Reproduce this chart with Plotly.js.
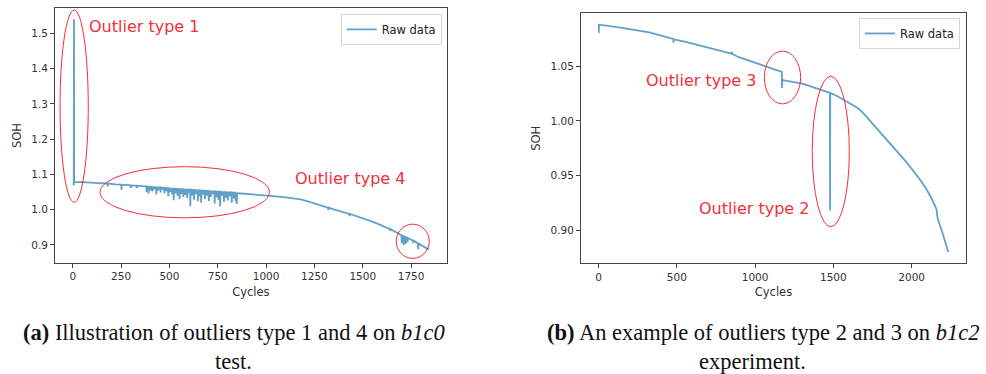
<!DOCTYPE html>
<html>
<head>
<meta charset="utf-8">
<script src="https://cdn.plot.ly/plotly-3.0.1.min.js"></script>
<style>html,body{margin:0;padding:0;background:#fff}#chart{width:986px;height:374px}</style>
</head>
<body>
<div id="chart"></div>
<script>
// ---- (a) b1c0 test: cycles and SOH ----
const cyclesA = [0,5,6,7,30,80,120,150,179,180,181,220,251,252,253,300,301,302,330,331,332,360,
380,382,384,390,392,394,400,402,404,410,412,414,420,422,424,430,432,434,440,442,444,452,454,456,462,464,466,
472,474,476,482,484,486,492,494,496,502,504,506,512,514,516,520,522,524,530,532,534,540,542,544,550,552,554,
560,562,564,570,572,574,580,582,584,590,592,594,600,602,604,607,608,609,615,617,619,625,627,629,635,637,639,
645,647,649,655,657,659,662,664,666,672,674,676,682,684,686,692,694,696,702,704,706,712,714,716,722,724,726,
732,734,736,742,744,746,752,754,756,760,762,764,770,772,774,780,782,784,790,792,794,800,802,804,810,812,814,
820,822,824,830,832,834,840,842,844,846,848,850,870,900,950,1000,1050,1100,1150,1180,1220,1260,1300,
1320,1322,1324,1350,1400,1430,1432,1434,1450,1500,1520,1560,1600,1640,1642,1644,1670,1690,1700,1702,1704,
1710,1712,1714,1720,1722,1724,1730,1732,1734,1745,1760,1762,1764,1785,1787,1789,1800,1820,1842];
const sohA = [1.071,1.072,1.540,1.077,1.079,1.078,1.077,1.075,1.074,1.066,1.074,1.072,1.071,1.056,1.071,1.069,1.062,1.069,1.068,1.061,1.068,1.067,
1.066,1.050,1.066,1.065,1.046,1.065,1.065,1.055,1.065,1.064,1.052,1.064,1.064,1.058,1.064,1.063,1.043,1.063,1.063,1.054,1.063,1.063,1.049,1.063,1.062,1.057,1.062,
1.062,1.047,1.062,1.061,1.053,1.061,1.061,1.038,1.061,1.060,1.050,1.060,1.060,1.044,1.060,1.060,1.027,1.060,1.059,1.046,1.059,1.059,1.040,1.059,1.058,1.030,1.058,
1.058,1.045,1.058,1.058,1.036,1.058,1.057,1.042,1.057,1.057,1.033,1.057,1.057,1.048,1.057,1.057,1.010,1.057,1.056,1.040,1.056,1.056,1.028,1.056,1.055,1.045,1.055,
1.055,1.024,1.055,1.055,1.038,1.055,1.054,1.020,1.054,1.054,1.043,1.054,1.053,1.030,1.053,1.053,1.040,1.053,1.053,1.025,1.053,1.052,1.036,1.052,1.052,1.044,1.052,
1.052,1.018,1.052,1.051,1.035,1.051,1.051,1.028,1.051,1.051,1.009,1.051,1.050,1.040,1.050,1.050,1.022,1.050,1.050,1.034,1.050,1.049,1.026,1.049,1.049,1.038,1.049,
1.049,1.020,1.049,1.048,1.032,1.048,1.048,1.025,1.048,1.048,1.016,1.047,1.046,1.045,1.043,1.040,1.038,1.035,1.032,1.029,1.023,1.016,1.009,
1.006,0.999,1.006,1.001,0.993,0.988,0.982,0.988,0.985,0.976,0.972,0.964,0.955,0.945,0.940,0.945,0.937,0.931,0.928,0.905,0.928,
0.925,0.900,0.925,0.922,0.903,0.922,0.920,0.908,0.920,0.916,0.912,0.905,0.912,0.905,0.888,0.905,0.900,0.894,0.887];

// ---- (b) b1c2 experiment ----
const cyclesB = [0,2,3,20,60,150,250,325,400,470,478,479,480,550,620,700,780,850,852,854,900,950,1000,1050,1100,1150,
1171,1172,1174,1186,1250,1300,1350,1400,1450,1478,1479,1480,1520,1570,1600,1630,1650,1670,1690,1710,1750,1800,1862,
1900,1950,1990,2030,2060,2090,2120,2150,2160,2163,2170,2200,2234];
const sohB = [1.081,1.081,1.088,1.0875,1.087,1.085,1.083,1.081,1.078,1.0755,1.075,1.0715,1.0745,1.0725,1.070,1.0675,1.064,1.0615,1.063,1.0612,1.058,1.0555,1.053,1.0505,1.048,1.0458,
1.0448,1.030,1.0375,1.037,1.0355,1.034,1.0318,1.0295,1.027,1.0255,0.918,1.0255,1.023,1.019,1.0165,1.0140,1.0122,1.0100,1.0072,1.0040,0.9975,0.9895,0.9796,
0.9733,0.9650,0.9580,0.9510,0.9450,0.9385,0.9310,0.9220,0.9185,0.9130,0.9090,0.8960,0.8800];

const ticksAx = [0,250,500,750,1000,1250,1500,1750];
const ticksAy = [0.9,1.0,1.1,1.2,1.3,1.4,1.5];
const ticksBx = [0,500,1000,1500,2000];
const ticksBy = [0.90,0.95,1.00,1.05];

const seriesName = 'Raw data';
const outlierLabels = ['Outlier type 1','Outlier type 4','Outlier type 3','Outlier type 2'];
const captionA = ['<b>(a)</b> Illustration of outliers type 1 and 4 on <i>b1c0</i>','test.'];
const captionB = ['<b>(b)</b> An example of outliers type 2 and 3 on <i>b1c2</i>','experiment.'];

const lineStyle = {color:'rgba(31,119,180,0.7)', width:1.8};
const tickFont = {family:'DejaVu Sans', size:10.5, color:'#333'};
const red = '#f2303a';

const traces = [
  {x:cyclesA, y:sohA, type:'scatter', mode:'lines', name:seriesName, line:lineStyle, xaxis:'x', yaxis:'y', legend:'legend'},
  {x:cyclesB, y:sohB, type:'scatter', mode:'lines', name:seriesName, line:lineStyle, xaxis:'x2', yaxis:'y2', legend:'legend2'}
];

function axis(extra){
  return Object.assign({
    showgrid:false, zeroline:false, showline:true, mirror:true, linecolor:'#444', linewidth:1,
    ticks:'outside', ticklen:4, tickcolor:'#444', tickwidth:1, tickfont:tickFont, fixedrange:true
  }, extra);
}
const titleFont = {family:'DejaVu Sans', size:11.5, color:'#333'};

const legendStyle = {bgcolor:'white', bordercolor:'#d6d6d6', borderwidth:1,
  font:{family:'DejaVu Sans', size:11.5, color:'#222'}, xanchor:'right', yanchor:'top'};

const ellipse = (xr, yr, x0, x1, y0, y1) => ({type:'circle', xref:xr, yref:yr, x0:x0, x1:x1, y0:y0, y1:y1,
  line:{color:red, width:1}});
const label = (xr, yr, x, y, t) => ({xref:xr, yref:yr, x:x, y:y, text:t, showarrow:false, xanchor:'left', yanchor:'middle',
  font:{family:'DejaVu Sans', size:16, color:red}});
const capFont = {family:'Liberation Serif', size:22.5, color:'#111'};
const cap = (x, y, t) => ({xref:'paper', yref:'paper', x:x, y:y, text:t, showarrow:false, xanchor:'center', yanchor:'middle', font:capFont});

const layout = {
  width:986, height:374, margin:{l:0,r:0,t:0,b:0}, paper_bgcolor:'white', plot_bgcolor:'white', showlegend:true,
  xaxis: axis({domain:[0.0558,0.4530], range:[-92,1934], tickvals:ticksAx, anchor:'y',
    title:{text:'Cycles', font:titleFont, standoff:6}}),
  yaxis: axis({domain:[0.2976,0.9778], range:[0.8498,1.5709], tickvals:ticksAy, tickformat:'.1f', anchor:'x',
    title:{text:'SOH', font:titleFont, standoff:7}}),
  xaxis2: axis({domain:[0.5892,0.9797], range:[-112,2347], tickvals:ticksBx, anchor:'y2',
    title:{text:'Cycles', font:titleFont, standoff:6}}),
  yaxis2: axis({domain:[0.2960,0.9644], range:[0.8696,1.0984], tickvals:ticksBy, tickformat:'.2f', anchor:'x2',
    title:{text:'SOH', font:titleFont, standoff:7}}),
  legend: Object.assign({x:0.448, y:0.963}, legendStyle),
  legend2: Object.assign({x:0.9736, y:0.952}, legendStyle),
  shapes:[
    ellipse('x','y',-66,80,1.021,1.566),
    ellipse('x','y',141,1017,0.977,1.122),
    ellipse('x','y',1673,1844,0.862,0.959),
    ellipse('x2','y2',1059,1291,1.0155,1.0638),
    ellipse('x2','y2',1365,1602,0.903,1.0408)
  ],
  annotations:[
    label('x','y',75,1.518,outlierLabels[0]),
    label('x','y',1140,1.089,outlierLabels[1]),
    label('x2','y2',290,1.0369,outlierLabels[2]),
    label('x2','y2',630,0.920,outlierLabels[3]),
    cap(233.5/986, 0.112, captionA[0]),
    cap(233/986, 0.033, captionA[1]),
    cap(763/986, 0.112, captionB[0]),
    cap(752.5/986, 0.033, captionB[1])
  ]
};

Plotly.newPlot('chart', traces, layout, {displayModeBar:false, staticPlot:true});
</script>
</body>
</html>
